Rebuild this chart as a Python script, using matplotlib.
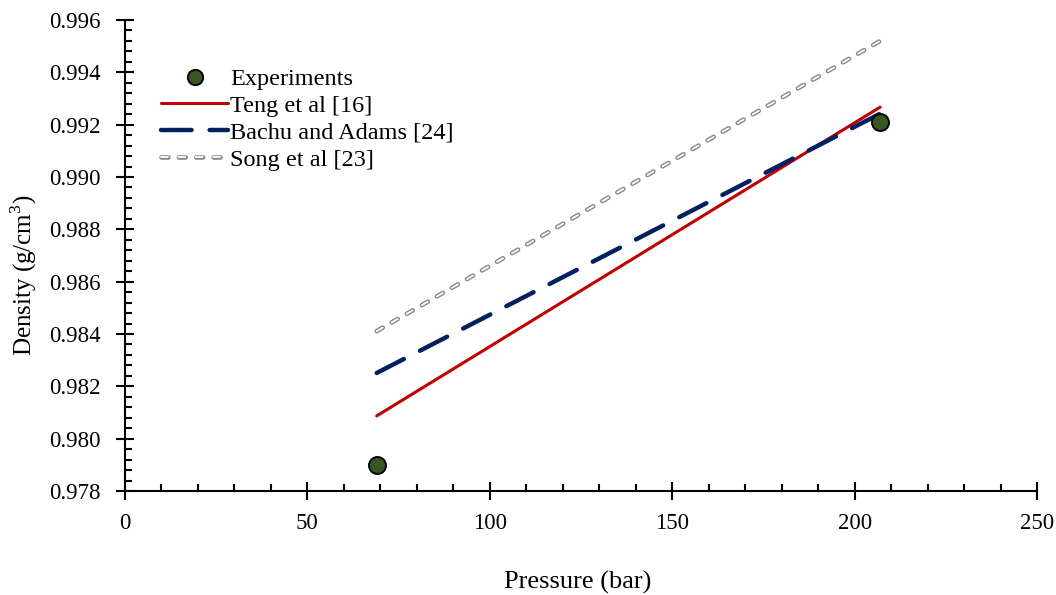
import matplotlib
matplotlib.use("Agg")
import matplotlib.pyplot as plt
from matplotlib.ticker import MultipleLocator, FormatStrFormatter
from matplotlib.lines import Line2D

plt.rcParams['font.family'] = ['Liberation Serif', 'DejaVu Serif']
plt.rcParams['mathtext.fontset'] = 'custom'
plt.rcParams['mathtext.rm'] = 'Liberation Serif'
plt.rcParams['lines.scale_dashes'] = False

# Measured brine densities
exp_pressure = [69, 207]
exp_density = [0.9790, 0.9921]

# Correlation predictions over the same pressure range
model_pressure = [69, 207]
teng_density = [0.98087, 0.99267]
bachu_density = [0.98251, 0.99242]
song_density = [0.98411, 0.99520]

GREY = '#888888'
SONG_DASH = (5.0, 7.5)
W, H = 1056, 595

fig = plt.figure(figsize=(W / 100, H / 100), dpi=100)
ax = fig.add_axes([125 / W, 1 - 491 / H, 912 / W, 471 / H])

# Song et al: hollow grey dashes (grey outline with white core)
ax.plot(model_pressure, song_density, color=GREY, lw=3.3,
        dashes=SONG_DASH, dash_capstyle='round', zorder=2)
ax.plot(model_pressure, song_density, color='white', lw=1.3,
        dashes=SONG_DASH, dash_capstyle='round', zorder=2.1)

ax.plot(model_pressure, teng_density, color='#C00000', lw=2.2,
        solid_capstyle='round', zorder=3)
ax.plot(model_pressure, bachu_density, color='#002060', lw=3.2,
        dashes=(22, 13), dash_capstyle='round', zorder=3)
ax.scatter(exp_pressure, exp_density, s=150, color='#375623',
           edgecolor='black', linewidth=1.4, zorder=4)

ax.set_xlim(0, 250)
ax.set_ylim(0.978, 0.996)
ax.xaxis.set_major_locator(MultipleLocator(50))
ax.xaxis.set_minor_locator(MultipleLocator(10))
ax.yaxis.set_major_locator(MultipleLocator(0.002))
ax.yaxis.set_minor_locator(MultipleLocator(0.0004))
ax.yaxis.set_major_formatter(FormatStrFormatter('%.3f'))

for side in ('top', 'right'):
    ax.spines[side].set_visible(False)
for side in ('left', 'bottom'):
    ax.spines[side].set_linewidth(1.5)

ax.tick_params(which='major', direction='inout', length=13, width=1.5,
               labelsize=16.5)
ax.tick_params(which='minor', direction='in', length=5, width=1.5)
ax.tick_params(axis='x', which='major', pad=9)
ax.tick_params(axis='y', which='major', pad=11)

# axis titles
fig.text(578 / W, 1 - 582 / H, 'Pressure (bar)', fontsize=19,
         ha='center', va='center')
fig.text(24 / W, 1 - 275 / H, 'Density (g/cm$^3$)', fontsize=18,
         rotation=90, ha='center', va='center')

handles = [
    Line2D([], [], ls='none', marker='o', markersize=11, markerfacecolor='#375623',
           markeredgecolor='black', markeredgewidth=1.4),
    Line2D([], [], color='#C00000', lw=2.2, solid_capstyle='round'),
    Line2D([], [], color='#002060', lw=3.2, dashes=(22, 13), dash_capstyle='round'),
    Line2D([], [], color=GREY, lw=3.3, dashes=SONG_DASH, dash_capstyle='round'),
]
labels = ['Experiments', 'Teng et al [16]', 'Bachu and Adams [24]', 'Song et al [23]']
leg = ax.legend(handles, labels, loc='upper left', bbox_to_anchor=(0.04, 0.898),
                frameon=False, fontsize=17.5, handlelength=2.75, handletextpad=0.08,
                labelspacing=0.2, borderaxespad=0, borderpad=0)

# white cores for the hollow dashes in the legend key
song_handle = leg.legend_handles[3]
fig.canvas.draw()
core = Line2D(song_handle.get_xdata(), song_handle.get_ydata(), color='white', lw=1.3,
              dashes=SONG_DASH, dash_capstyle='round',
              transform=song_handle.get_transform())
leg._legend_handle_box.get_children()[0].get_children()[3].get_children()[0].add_artist(core)

fig.savefig('out.png', dpi=100)
